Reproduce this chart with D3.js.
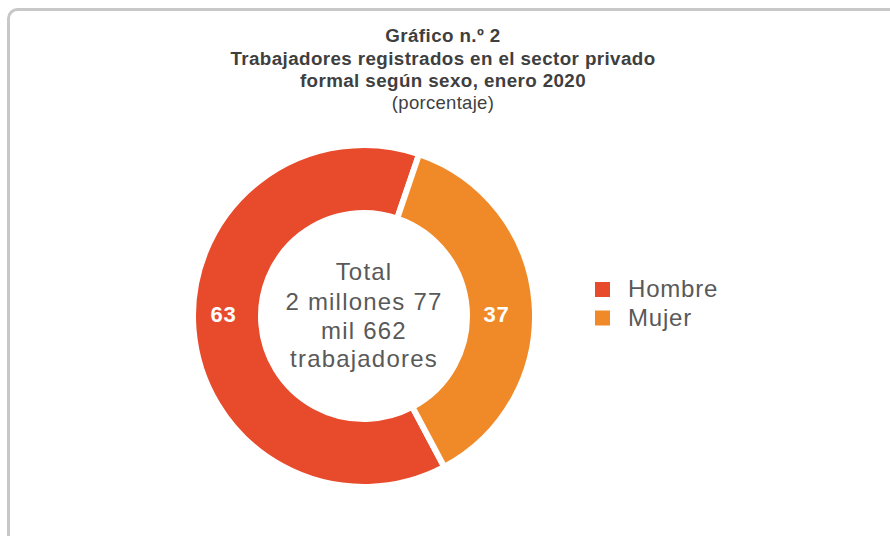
<!DOCTYPE html>
<html><head><meta charset="utf-8">
<script src="https://cdn.jsdelivr.net/npm/d3@7"></script>
<style>body{margin:0;background:#fff}svg{display:block}</style>
</head><body>
<svg id="c" width="890" height="536"></svg>
<script>
const categories = ["Hombre", "Mujer"];
const values = [63, 37];
const colors = ["#e84b2c", "#f08a28"];
const titleLines = ["Gráfico n.º 2", "Trabajadores registrados en el sector privado", "formal según sexo, enero 2020"];
const subtitle = "(porcentaje)";
const centerLines = ["Total", "2 millones 77", "mil 662", "trabajadores"];

const svg = d3.select("#c");
// frame
svg.append("rect").attr("x", 8.5).attr("y", 9.5).attr("width", 920).attr("height", 560)
  .attr("rx", 9).attr("fill", "none").attr("stroke", "#c8c8c8").attr("stroke-width", 3);

const font = "'Liberation Sans', Arial, sans-serif";
const tb = [42, 64.5, 86.5];
titleLines.forEach((t, i) => {
  svg.append("text").attr("x", 443).attr("y", tb[i]).attr("text-anchor", "middle")
    .attr("font-family", font).attr("font-weight", "bold").attr("font-size", 18.8)
    .attr("letter-spacing", 0.4).attr("fill", "#3f3f3f").text(t);
});
svg.append("text").attr("x", 443).attr("y", 108.5).attr("text-anchor", "middle")
  .attr("font-family", font).attr("font-size", 18.5).attr("letter-spacing", 0.3)
  .attr("fill", "#3f3f3f").text(subtitle);

const cx = 364, cy = 316, R = 171, r = 103;
const start = 152 * Math.PI / 180;
const pie = d3.pie().sort(null).value(d => d).startAngle(start).endAngle(start + 2 * Math.PI);
const arcs = pie(values);
const arc = d3.arc().innerRadius(r).outerRadius(R);
const g = svg.append("g").attr("transform", `translate(${cx},${cy})`);
g.selectAll("path").data(arcs).join("path").attr("d", arc)
  .attr("fill", (d, i) => colors[i]).attr("stroke", "#fff").attr("stroke-width", 6);

const labelArc = d3.arc().innerRadius(137).outerRadius(137);
g.selectAll("text.lbl").data(arcs).join("text").attr("class", "lbl")
  .attr("x", d => labelArc.centroid(d)[0] - 4).attr("y", -2)
  .attr("dy", "0.36em").attr("text-anchor", "middle")
  .attr("font-family", font).attr("font-weight", "bold").attr("font-size", 22)
  .attr("letter-spacing", 0.8).attr("fill", "#fff").text(d => d.data);

const cb = [280, 310, 338.5, 367];
centerLines.forEach((t, i) => {
  svg.append("text").attr("x", cx).attr("y", cb[i]).attr("text-anchor", "middle")
    .attr("font-family", font).attr("font-size", 24).attr("letter-spacing", 1.2)
    .attr("fill", "#595959").text(t);
});

const lg = svg.append("g");
categories.forEach((c, i) => {
  lg.append("rect").attr("x", 595).attr("y", 282 + i * 28.5).attr("width", 15).attr("height", 15).attr("fill", colors[i]);
  lg.append("text").attr("x", 628).attr("y", 297 + i * 28.5).attr("font-family", font)
    .attr("font-size", 24).attr("letter-spacing", 0.8).attr("fill", "#595959").text(c);
});
</script>
</body></html>
